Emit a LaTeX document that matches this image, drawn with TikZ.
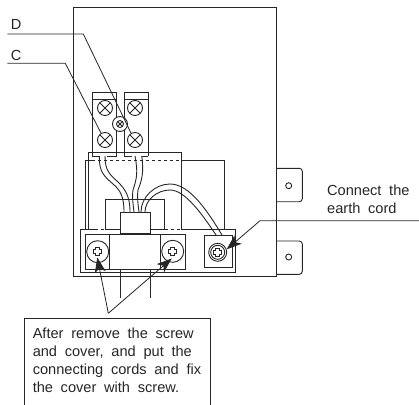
\documentclass[tikz,border=0pt]{standalone}
\usepackage{fontspec}
\setmainfont[WordSpace=1.9]{Liberation Sans}
\usepackage{xcolor}
\usepackage{tikz}
\usetikzlibrary{arrows.meta,shapes}

\begin{document}
\begin{tikzpicture}[x=1pt,y=-1pt,line width=0.9pt,draw=black!85]
		\tikzstyle{term_screw}=[draw,circle,minimum size=15pt,inner sep=0pt,path picture={
			\draw (path picture bounding box.north west) -- (path picture bounding box.south east);
			\draw (path picture bounding box.north east) -- (path picture bounding box.south west);}]
		\tikzstyle{small_screw}=[term_screw,minimum size=7pt]
		\tikzstyle{plain_ring}=[draw,circle,inner sep=0pt,fill=white]
		\tikzstyle{cover_screw}=[plain_ring,minimum size=22pt]
		\tikzstyle{hole}=[plain_ring,minimum size=6pt]
		\tikzstyle{label_text}=[font=\fontsize{14.6}{18}\selectfont,text=black!85,inner sep=0pt,anchor=base west]
		\tikzstyle{block_text}=[label_text,align=left,anchor=north west]
		\tikzstyle{leader}=[line width=0.8pt]
		\tikzstyle{pointer}=[leader,-{Stealth[length=15pt,width=11pt,inset=4pt]}]
		\tikzset{recess/.pic={\draw[line width=0.7pt] (-4,-2) -- (-2,-2) -- (-2,-4) -- (2,-4) -- (2,-2) -- (4,-2) -- (4,2) -- (2,2) -- (2,4) -- (-2,4) -- (-2,2) -- (-4,2) -- cycle;}}

		\useasboundingbox (0,0) rectangle (419,404);

		% case and lugs
		\draw (73,7) rectangle (276.7,276);
		\draw[rounded corners=3pt] (276.7,168.3) -- (302.3,168.3) -- (302.3,201.7) -- (276.7,201.7);
		\draw[rounded corners=3pt] (276.7,241) -- (302.3,241) -- (302.3,274.3) -- (276.7,274.3);
		\node [hole] (H1) at (288.7,185.7) {};
		\node [hole] (H2) at (288.7,257) {};

		% terminal blocks
		\draw (116.7,156) -- (116.7,92.3) -- (92.3,92.3) -- (92.3,156) -- (99.5,156);
		\draw (107,156) -- (116.7,156);
		\draw (92.3,99.3) -- (116.7,99.3);
		\draw (148,156) -- (148,92.3) -- (124,92.3) -- (124,156) -- (131.5,156);
		\draw (141.7,156) -- (148,156);
		\draw (124,99.3) -- (148,99.3);
		\node [term_screw] (T1) at (105,108) {};
		\node [term_screw] (T2) at (135,108) {};
		\node [term_screw] (T3) at (105,140) {};
		\node [term_screw] (T4) at (135,140) {};
		\node [plain_ring,minimum size=15pt] (T5) at (120,124) {};
		\node [small_screw] (T6) at (120,124) {};

		% inner frame
		\draw (88.3,229) -- (88.3,152) -- (181.7,152) -- (181.7,229);
		\draw (85,229) -- (85,160) -- (92,160);
		\draw[dashed] (92,160) -- (181.7,160);
		\draw (181.7,160) -- (224,160) -- (224,229);
		\draw (105.7,229) -- (105.7,199) -- (164,199) -- (164,229);

		% wires
		\draw (99.3,156) .. controls (99,172) and (104,176) .. (113,184) .. controls (120,190) and (124,196) .. (124,212);
		\draw (105,156) .. controls (105,170) and (109,174) .. (118,182) .. controls (125,189) and (130,196) .. (130,212);
		\draw (135,156) .. controls (138,172) and (137,178) .. (133,190) .. controls (132,198) and (133,204) .. (134,212);
		\draw (141.7,156) .. controls (144,172) and (142,180) .. (138,190) .. controls (137,198) and (138,204) .. (139,212);
		\draw (141,212) .. controls (141,197) and (155,184) .. (170,184) .. controls (190,184) and (208,212) .. (222,235);
		\draw (145,212) .. controls (145,200) and (157,190) .. (170,190) .. controls (185,190) and (202,214) .. (216,235);

		% connector and bracket
		\draw[fill=white] (120,212.3) rectangle (150,233);
		\draw (95,229) -- (80.7,229) -- (80.7,272.7) -- (235.7,272.7) -- (235.7,229) -- (181,229);
		\draw[dashed] (95,229) -- (105,229);
		\draw (105,229) -- (120,229);
		\draw (150,229) -- (165,229);
		\draw[dashed] (165,229) -- (181,229);
		\draw (85,234.7) rectangle (109.3,269);
		\draw (109.3,234.7) rectangle (160,269);
		\draw (160,234.7) rectangle (185.7,269);
		\draw (204,235.7) rectangle (232.3,267.3);
		\draw (120,269) -- (120,298);
		\draw (150,269) -- (150,298);

		\node [cover_screw] (S1) at (97.7,251.7) {};
		\node [cover_screw] (S2) at (172.7,251.3) {};
		\pic at (S1) {recess};
		\pic at (S2) {recess};
		\node [plain_ring,minimum size=18pt] (S3) at (217.7,252.3) {};
		\node [plain_ring,minimum size=14pt] (S4) at (217.7,252.3) {};
		\pic at (S4) {recess};

		% leaders
		\node [label_text] (labelD) at (10.5,30) {D};
		\node [label_text] (labelC) at (10.5,60) {C};
		\coordinate (cornerD) at (83.3,34);
		\coordinate (startD) at (7.3,34);
		\coordinate (cornerC) at (65.3,63.3);
		\coordinate (startC) at (7.3,63.3);
		\draw [leader] (startD) -- (cornerD) -- (T4.120);
		\draw [leader] (startC) -- (cornerC) -- (T3.120);

		% note box
		\draw (24.3,405) -- (24.3,318.3) -- (210,318.3) -- (210,405);
		\node [block_text] (note) at (32.3,327.6) {After remove the screw\\and cover, and put the\\connecting cords and fix\\the cover with screw.};
		\coordinate (apex) at (108.3,313.3);
		\coordinate (tipS1) at (97.3,257.5);
		\coordinate (tipS2) at (171.7,258.5);
		\draw [pointer] (apex) -- (tipS1);
		\draw [pointer] (apex) -- (tipS2);

		% earth note
		\node [block_text] (earth) at (326.7,184.3) {Connect the\\earth cord};
		\coordinate (endE) at (419,220.7);
		\coordinate (cornerE) at (260,220.7);
		\coordinate (tipS4) at (226.7,249.3);
		\draw [pointer] (endE) -- (cornerE) -- (tipS4);
	\end{tikzpicture}
\end{document}
